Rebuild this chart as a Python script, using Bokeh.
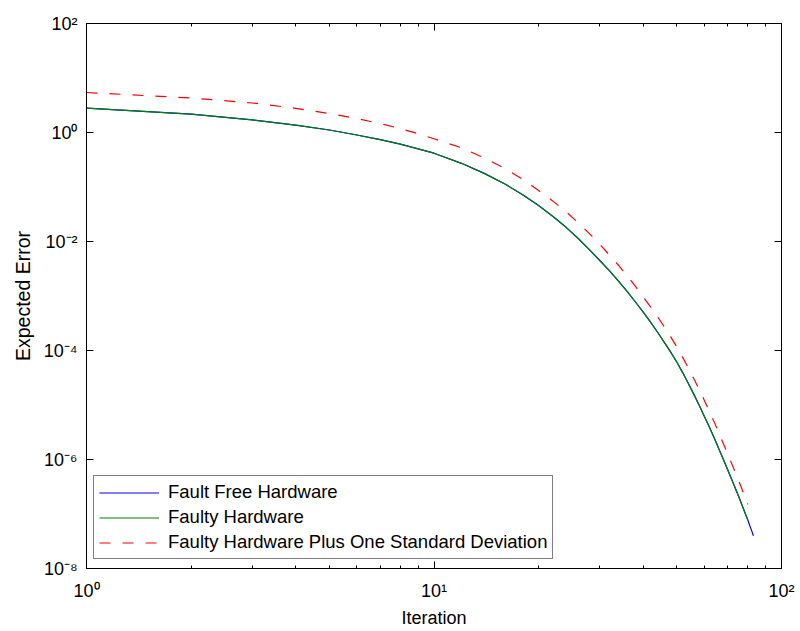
from bokeh.plotting import figure
from bokeh.models import (Range1d, LogAxis, FixedTicker, CustomJSTickFormatter,
                          Legend, LegendItem)
from bokeh.embed import file_html
from bokeh.resources import INLINE

# ---- data ----
iter_faulty = [1, 2, 3, 4, 5, 6, 7, 8, 9, 10, 12, 14, 16, 18, 20, 22, 24, 26,
               28, 30, 32, 34, 36, 38, 40, 42, 44, 46, 48, 50, 52, 54, 56, 58,
               60, 62, 64, 66, 68, 70, 72, 74, 76, 78, 80]
err_faulty = [2.79, 2.18, 1.70, 1.37, 1.11, 0.90, 0.74, 0.61, 0.50, 0.417,
              0.272, 0.176, 0.1135, 0.0724, 0.0458, 0.0288, 0.0182, 0.01135,
              0.00708, 0.00448, 0.00288, 0.00186, 0.00120, 7.76e-4, 5.05e-4,
              3.31e-4, 2.16e-4, 1.41e-4, 9.33e-5, 6.10e-5, 3.89e-5, 2.45e-5,
              1.55e-5, 9.77e-6, 6.17e-6, 3.94e-6, 2.51e-6, 1.58e-6, 1.01e-6,
              6.46e-7, 4.22e-7, 2.75e-7, 1.80e-7, 1.17e-7, 7.76e-8]

iter_free = [1, 2, 3, 4, 5, 6, 7, 8, 9, 10, 12, 14, 16, 18, 20, 22, 24, 26,
             28, 30, 32, 34, 36, 38, 40, 42, 44, 46, 48, 50, 52, 54, 56, 58,
             60, 62, 64, 66, 68, 70, 72, 74, 76, 78, 80, 81, 82, 83]
err_free = [2.79, 2.18, 1.70, 1.37, 1.11, 0.90, 0.74, 0.61, 0.50, 0.417,
            0.272, 0.176, 0.1135, 0.0724, 0.0458, 0.0288, 0.0182, 0.01135,
            0.00708, 0.00448, 0.00288, 0.00186, 0.00120, 7.76e-4, 5.05e-4,
            3.31e-4, 2.16e-4, 1.41e-4, 9.33e-5, 6.10e-5, 3.89e-5, 2.45e-5,
            1.55e-5, 9.77e-6, 6.17e-6, 3.94e-6, 2.51e-6, 1.58e-6, 1.01e-6,
            6.46e-7, 4.22e-7, 2.75e-7, 1.80e-7, 1.17e-7, 7.76e-8, 6.17e-8,
            5.01e-8, 3.98e-8]

iter_plus_std = [1, 2, 3, 4, 5, 6, 7, 8, 9, 10, 12, 14, 16, 18, 20, 22, 24, 26,
                 28, 30, 32, 34, 36, 38, 40, 42, 44, 46, 48, 50, 52, 54, 56, 58,
                 60, 62, 64, 66, 68, 70, 72, 74, 76, 78, 80]
err_plus_std = [5.42, 4.30, 3.48, 2.78, 2.23, 1.80, 1.46, 1.18, 0.95, 0.769,
                0.525, 0.339, 0.219, 0.138, 0.0863, 0.0550, 0.0351, 0.0221,
                0.01396, 0.00891, 0.00562, 0.00363, 0.00234, 0.00150, 9.59e-4,
                6.31e-4, 4.17e-4, 2.72e-4, 1.78e-4, 1.16e-4, 7.41e-5, 4.73e-5,
                2.99e-5, 1.91e-5, 1.21e-5, 7.67e-6, 4.90e-6, 3.09e-6, 1.97e-6,
                1.27e-6, 8.22e-7, 5.37e-7, 3.51e-7, 2.29e-7, 1.50e-7]

x_major = [1, 10, 100]
x_minor = [2, 3, 4, 5, 6, 7, 8, 9, 20, 30, 40, 50, 60, 70, 80, 90]
y_major = [1e-8, 1e-6, 1e-4, 1e-2, 1e0, 1e2]

labels = ["Fault Free Hardware", "Faulty Hardware",
          "Faulty Hardware Plus One Standard Deviation"]

FONT = "Liberation Sans"
FS = "18px"
LFS = "18.5px"

p = figure(width=800, height=631, x_axis_type="log", y_axis_type="log",
           x_range=Range1d(1, 100), y_range=Range1d(1e-8, 1e2),
           output_backend="svg", toolbar_location=None,
           min_border_left=86, min_border_right=19, min_border_top=23,
           min_border_bottom=63)
p.background_fill_color = "white"
p.border_fill_color = "white"
p.outline_line_color = "black"
p.outline_line_width = 1
p.xgrid.visible = False
p.ygrid.visible = False

sup_code = """
const e = Math.round(Math.log10(tick));
const m = {'-':'\u207B','0':'\u2070','1':'\u00B9','2':'\u00B2','3':'\u00B3',
           '4':'\u2074','5':'\u2075','6':'\u2076','7':'\u2077','8':'\u2078','9':'\u2079'};
return '10' + String(e).split('').map(c => m[c]).join('');
"""
blank_code = "return '';"


def style_axis(ax, ticker, labelled):
    ax.ticker = ticker
    ax.axis_line_color = "black"
    ax.axis_line_width = 1
    ax.major_tick_line_color = "black"
    ax.minor_tick_line_color = "black"
    ax.major_tick_in = 7
    ax.major_tick_out = 0
    ax.minor_tick_in = 3
    ax.minor_tick_out = 0
    ax.major_label_text_font = FONT
    ax.major_label_text_font_size = FS
    ax.major_label_text_color = "black"
    ax.axis_label_text_font = FONT
    ax.axis_label_text_font_size = FS
    ax.axis_label_text_font_style = "normal"
    ax.axis_label_text_color = "black"
    if labelled:
        ax.formatter = CustomJSTickFormatter(code=sup_code)
    else:
        ax.formatter = CustomJSTickFormatter(code=blank_code)
        ax.major_label_text_font_size = "0px"


xt = FixedTicker(ticks=x_major, minor_ticks=x_minor)
yt = FixedTicker(ticks=y_major, minor_ticks=[])

style_axis(p.xaxis[0], xt, True)
style_axis(p.yaxis[0], yt, True)
p.xaxis[0].axis_label = "Iteration"
p.yaxis[0].axis_label = "Expected Error"
p.yaxis[0].axis_label_text_font_size = "19.5px"
p.xaxis[0].major_label_standoff = 12
p.yaxis[0].major_label_standoff = 9
p.xaxis[0].axis_label_standoff = 4
p.yaxis[0].axis_label_standoff = 7

top = LogAxis()
style_axis(top, FixedTicker(ticks=x_major, minor_ticks=x_minor), False)
p.add_layout(top, "above")
right = LogAxis()
style_axis(right, FixedTicker(ticks=y_major, minor_ticks=[]), False)
p.add_layout(right, "right")

r_free = p.line(iter_free, err_free, line_color="#0000ff", line_width=1.2)
r_faulty = p.line(iter_faulty, err_faulty, line_color="#008000", line_width=1.2)
r_std = p.line(iter_plus_std, err_plus_std, line_color="#ff0000", line_width=1.2,
               line_dash="11 12")

legend = Legend(items=[LegendItem(label=labels[0], renderers=[r_free]),
                       LegendItem(label=labels[1], renderers=[r_faulty]),
                       LegendItem(label=labels[2], renderers=[r_std])],
                location=(7, 9), margin=0, padding=5, spacing=3,
                glyph_width=60, glyph_height=19, label_height=19,
                label_standoff=9,
                label_text_font=FONT, label_text_font_size=LFS,
                label_text_color="black",
                border_line_color="black", border_line_width=1,
                background_fill_color="white", background_fill_alpha=1)
p.add_layout(legend, "center")

open("out.html", "w").write(file_html(p, INLINE))
